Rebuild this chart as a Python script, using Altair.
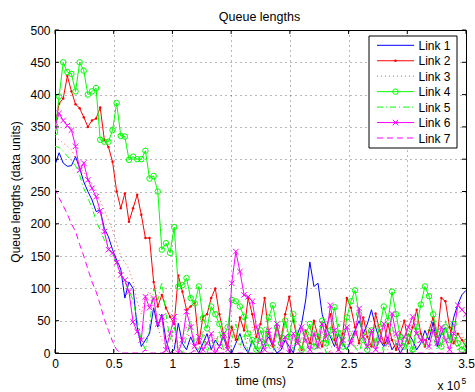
import altair as alt
import pandas as pd

STEP = 3500  # sampling interval of the series (ms)

link1 = [291, 310, 294, 289, 290, 304, 286, 265, 250, 237,
         219, 221, 193, 180, 160, 144, 130, 85, 110, 100,
         40, 10, 20, 30, 70, 40, 60, 20, 0, 5,
         46, 15, 5, 25, 10, 0, 15, 30, 5, 20,
         10, 25, 5, 0, 15, 30, 10, 0, 20, 5,
         0, 15, 25, 10, 0, 5, 20, 10, 0, 30,
         45, 82, 141, 103, 108, 60, 40, 25, 10, 30,
         15, 5, 20, 35, 50, 30, 45, 67, 40, 20,
         10, 25, 5, 15, 0, 10, 30, 20, 5, 15,
         35, 20, 48, 10, 30, 40, 20, 55, 75, 90,
         97]
link2 = [350, 386, 394, 429, 405, 385, 379, 365, 350, 360,
         363, 380, 330, 319, 296, 250, 224, 247, 203, 224,
         245, 214, 178, 178, 110, 72, 90, 70, 56, 45,
         120, 95, 67, 72, 78, 15, 56, 60, 85, 100,
         60, 30, 10, 40, 20, 55, 35, 85, 60, 25,
         45, 85, 30, 10, 40, 20, 60, 87, 50, 20,
         5, 35, 15, 50, 25, 10, 40, 60, 20, 5,
         30, 85, 70, 40, 15, 55, 25, 10, 61, 35,
         15, 45, 20, 5, 30, 50, 15, 40, 67, 30,
         10, 35, 55, 25, 85, 80, 40, 15, 30, 20,
         10]
link3 = [335, 330, 325, 320, 315, 300, 290, 280, 270, 262,
         252, 235, 221, 206, 190, 170, 150, 140, 130, 110,
         80, 60, 90, 95, 70, 40, 20, 10, 30, 15,
         5, 25, 40, 15, 0, 20, 35, 10, 5, 25,
         15, 0, 30, 45, 20, 10, 5, 25, 40, 15,
         0, 20, 35, 10, 5, 30, 45, 20, 10, 0,
         25, 15, 40, 20, 5, 35, 10, 0, 30, 20,
         10, 45, 25, 5, 15, 55, 30, 10, 20, 40,
         15, 5, 35, 20, 0, 25, 45, 15, 10, 30,
         20, 5, 40, 25, 10, 15, 35, 20, 5, 30,
         10]
link4 = [342, 397, 450, 435, 432, 405, 450, 437, 400, 405,
         410, 330, 327, 327, 345, 387, 336, 335, 299, 304,
         300, 300, 313, 270, 274, 250, 160, 170, 155, 195,
         103, 105, 116, 85, 77, 103, 54, 38, 72, 60,
         45, 25, 40, 82, 80, 72, 56, 30, 20, 5,
         35, 15, 55, 74, 40, 15, 50, 25, 60, 20,
         5, 30, 45, 10, 25, 50, 15, 35, 71, 30,
         10, 55, 80, 97, 60, 20, 5, 35, 15, 40,
         72, 50, 95, 60, 25, 10, 30, 5, 40, 75,
         103, 88, 60, 30, 10, 40, 20, 45, 15, 5,
         17]
link5 = [320, 318, 312, 305, 298, 290, 275, 255, 240, 225,
         205, 190, 175, 165, 150, 140, 120, 110, 95, 82,
         50, 20, 5, 40, 100, 82, 110, 60, 20, 40,
         10, 0, 25, 50, 15, 5, 30, 0, 20, 10,
         35, 5, 0, 20, 45, 10, 30, 0, 15, 25,
         5, 40, 10, 0, 30, 15, 50, 20, 5, 35,
         10, 0, 25, 40, 5, 20, 0, 30, 15, 45,
         20, 5, 35, 10, 0, 25, 40, 15, 5, 30,
         0, 20, 45, 10, 30, 5, 15, 0, 35, 20,
         10, 40, 25, 5, 20, 50, 15, 30, 5, 10,
         20]
link6 = [350, 371, 360, 352, 345, 320, 283, 294, 268, 255,
         242, 220, 188, 160, 155, 140, 121, 113, 95, 48,
         33, 20, 87, 70, 85, 45, 56, 5, 30, 56,
         0, 20, 64, 40, 10, 25, 5, 15, 30, 0,
         10, 30, 5, 108, 157, 126, 90, 87, 80, 40,
         20, 5, 35, 15, 45, 10, 25, 0, 30, 15,
         40, 20, 5, 30, 10, 45, 25, 74, 35, 5,
         20, 40, 15, 30, 69, 25, 10, 35, 5, 20,
         45, 15, 61, 30, 10, 25, 40, 56, 30, 20,
         20, 10, 35, 15, 40, 20, 5, 30, 74, 67,
         60]
link7 = [255, 240, 228, 215, 200, 188, 168, 150, 130, 110,
         95, 75, 52, 35, 18, 5, 0, 0, 0, 0,
         0, 0, 5, 0, 0, 0, 0, 3, 0, 0,
         0, 0, 0, 0, 4, 0, 0, 0, 0, 0,
         0, 0, 0, 0, 0, 0, 0, 0, 0, 0,
         0, 0, 0, 0, 0, 0, 0, 0, 0, 0,
         0, 0, 0, 0, 0, 0, 0, 0, 0, 0,
         0, 0, 0, 0, 0, 0, 0, 0, 0, 0,
         0, 0, 0, 0, 0, 0, 0, 0, 0, 0,
         0, 0, 0, 0, 0, 0, 0, 0, 0, 0,
         0]

links = ["Link 1", "Link 2", "Link 3", "Link 4", "Link 5", "Link 6", "Link 7"]
series = [link1, link2, link3, link4, link5, link6, link7]
x_ticks = [0, 50000, 100000, 150000, 200000, 250000, 300000, 350000]
y_ticks = [0, 50, 100, 150, 200, 250, 300, 350, 400, 450, 500]
TITLE = "Queue lengths"

XPATH = "M-1,-1L1,1M-1,1L1,-1"
styles = {
    "Link 1": dict(color="#0000ff", dash=None, marker=None),
    "Link 2": dict(color="#ff0000", dash=None, marker="dot"),
    "Link 3": dict(color="#ff4d4d", dash=[1, 3], marker=None),
    "Link 4": dict(color="#00ff00", dash=None, marker="circle"),
    "Link 5": dict(color="#00ff00", dash=[6, 3, 1, 3], marker=None),
    "Link 6": dict(color="#ff00ff", dash=None, marker="x"),
    "Link 7": dict(color="#ff00ff", dash=[6, 4], marker=None),
}

rows = []
for name, vals in zip(links, series):
    for i, v in enumerate(vals):
        rows.append({"t": i * STEP, "q": v, "link": name})
df = pd.DataFrame(rows)

FONT = "Liberation Sans"
W, H = 411, 323

xenc = alt.X("t:Q", scale=alt.Scale(domain=[0, 350000], nice=False),
             axis=alt.Axis(values=x_ticks, labelExpr="datum.value / 100000",
                           title="time (ms)", grid=True, ticks=False, labelFlush=False,
                           labelPadding=5, titlePadding=6))
yenc = alt.Y("q:Q", scale=alt.Scale(domain=[0, 500], nice=False),
             axis=alt.Axis(values=y_ticks, title="Queue lengths (data units)",
                           grid=True, ticks=False, labelFlush=False,
                           labelPadding=5, titlePadding=7))


def marker_layer(sub, kind, color):
    if kind == "dot":
        return alt.Chart(sub).mark_point(shape="circle", filled=True, size=6,
                                         color=color, opacity=1, clip=True).encode(x=xenc, y=yenc)
    if kind == "circle":
        return alt.Chart(sub).mark_point(shape="circle", filled=False, size=30,
                                         color=color, strokeWidth=1, opacity=1,
                                         clip=True).encode(x=xenc, y=yenc)
    return alt.Chart(sub).mark_point(shape=XPATH, filled=False, size=30,
                                     color=color, strokeWidth=1, opacity=1,
                                     clip=True).encode(x=xenc, y=yenc)


layers = []
for name in links:
    st = styles[name]
    sub = df[df["link"] == name]
    kw = dict(color=st["color"], strokeWidth=1, clip=True)
    if st["dash"]:
        kw["strokeDash"] = st["dash"]
    layers.append(alt.Chart(sub).mark_line(**kw).encode(x=xenc, y=yenc))
    if st["marker"]:
        layers.append(marker_layer(sub, st["marker"], st["color"]))

# inward tick marks on all four sides (MATLAB style)
xt = pd.DataFrame({"t": x_ticks})
yt = pd.DataFrame({"q": y_ticks})
layers.append(alt.Chart(xt).mark_rule(color="black", strokeWidth=1).encode(
    x=xenc, y=alt.value(H), y2=alt.value(H - 4)))
layers.append(alt.Chart(xt).mark_rule(color="black", strokeWidth=1).encode(
    x=xenc, y=alt.value(0), y2=alt.value(4)))
layers.append(alt.Chart(yt).mark_rule(color="black", strokeWidth=1).encode(
    y=yenc, x=alt.value(0), x2=alt.value(4)))
layers.append(alt.Chart(yt).mark_rule(color="black", strokeWidth=1).encode(
    y=yenc, x=alt.value(W), x2=alt.value(W - 4)))

# legend box (drawn manually, MATLAB style)
one = pd.DataFrame({"a": [0]})
LX0, LX1, LY0, LY1 = 314, 402, 6, 118
layers.append(alt.Chart(one).mark_rect(fill="white", stroke="black", strokeWidth=1).encode(
    x=alt.value(LX0), x2=alt.value(LX1), y=alt.value(LY0), y2=alt.value(LY1)))
for idx, name in enumerate(links):
    st = styles[name]
    yy = 15.3 + idx * 15.45
    kw = dict(color=st["color"], strokeWidth=1)
    if st["dash"]:
        kw["strokeDash"] = st["dash"]
    layers.append(alt.Chart(one).mark_rule(**kw).encode(
        x=alt.value(322), x2=alt.value(359), y=alt.value(yy)))
    if st["marker"] == "dot":
        layers.append(alt.Chart(one).mark_point(shape="circle", filled=True, size=6,
                                                color=st["color"], opacity=1).encode(
            x=alt.value(340.5), y=alt.value(yy)))
    elif st["marker"] == "circle":
        layers.append(alt.Chart(one).mark_point(shape="circle", filled=False, size=30,
                                                color=st["color"], strokeWidth=1, opacity=1).encode(
            x=alt.value(340.5), y=alt.value(yy)))
    elif st["marker"] == "x":
        layers.append(alt.Chart(one).mark_point(shape=XPATH, filled=False, size=30,
                                                color=st["color"], strokeWidth=1, opacity=1).encode(
            x=alt.value(340.5), y=alt.value(yy)))
    layers.append(alt.Chart(one).mark_text(text=name, align="left", baseline="middle",
                                           font=FONT, fontSize=12, color="black").encode(
        x=alt.value(363.5), y=alt.value(yy + 0.5)))

# title
layers.append(alt.Chart(one).mark_text(text=TITLE, align="center", baseline="alphabetic",
                                       font=FONT, fontSize=12.5, color="black").encode(
    x=alt.value(W / 2 - 1), y=alt.value(-9.5)))

# axis exponent "x 10^5"
layers.append(alt.Chart(one).mark_text(text="x 10", align="left", baseline="alphabetic",
                                       font=FONT, fontSize=12, color="black").encode(
    x=alt.value(382.5), y=alt.value(360)))
layers.append(alt.Chart(one).mark_text(text="5", align="left", baseline="alphabetic",
                                       font=FONT, fontSize=8.5, color="black").encode(
    x=alt.value(406.5), y=alt.value(354)))

chart = alt.layer(*layers).properties(
    width=W, height=H,
    autosize=alt.AutoSizeParams(type="none"),
    padding={"left": 55, "top": 30, "right": 9, "bottom": 39},
).configure_view(stroke="black", strokeWidth=1).configure_axis(
    labelFont=FONT, labelFontSize=12, labelColor="black",
    titleFont=FONT, titleFontSize=12, titleFontWeight="normal", titleColor="black",
    domainColor="black", domainWidth=1,
    gridColor="#000000", gridDash=[1, 4], gridOpacity=0.55, gridWidth=1,
)

chart.save("out.html", embed_options={"renderer": "svg", "actions": False})
